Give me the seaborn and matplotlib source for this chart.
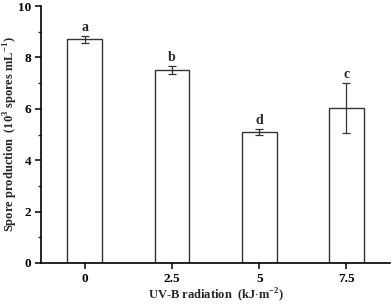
import pandas as pd
import seaborn as sns
import matplotlib.pyplot as plt
from matplotlib.ticker import MultipleLocator

# --- dati ---
dosi = ['0', '2.5', '5', '7.5']
produzione = [8.7, 7.5, 5.1, 6.02]
errori = [0.13, 0.15, 0.1, 0.97]
lettere = ['a', 'b', 'd', 'c']

df = pd.DataFrame({'dose': dosi, 'spore': produzione})

sns.set_style('ticks')
plt.rcParams['font.family'] = ['Liberation Serif', 'DejaVu Serif']
plt.rcParams['font.weight'] = 'bold'
plt.rcParams['mathtext.fontset'] = 'custom'
plt.rcParams['mathtext.rm'] = 'Liberation Serif:bold'
plt.rcParams['mathtext.bf'] = 'Liberation Serif:bold'

fig = plt.figure(figsize=(3.92, 3.05), dpi=100)
ax = fig.add_axes([0.105, 0.138, 0.89, 0.842])

sns.barplot(data=df, x='dose', y='spore', ax=ax, color='white',
            edgecolor='#333333', linewidth=1.0, width=0.4, errorbar=None)

pos = range(len(dosi))
ax.errorbar(pos, produzione, yerr=errori, fmt='none', ecolor='#333333',
            elinewidth=0.9, capsize=3, capthick=0.9)

for x, v, e, l in zip(pos, produzione, errori, lettere):
    ax.text(x, v + e + 0.1, l, ha='center', va='bottom', fontsize=10,
            fontweight='bold')

ax.set_xlim(-0.5, 3.5)
ax.set_ylim(0, 10)
ax.yaxis.set_major_locator(MultipleLocator(2))
ax.yaxis.set_minor_locator(MultipleLocator(1))

sns.despine(ax=ax)
for s in ['left', 'bottom']:
    ax.spines[s].set_linewidth(1.2)
    ax.spines[s].set_color('black')

ax.tick_params(axis='both', which='major', direction='out', length=4, width=1.1,
               labelsize=9.5, colors='black', pad=3)
ax.tick_params(axis='y', which='minor', direction='out', length=2.5, width=1.0)
for t in ax.get_xticklabels() + ax.get_yticklabels():
    t.set_fontweight('bold')

ax.set_xlabel(r'UV-B radiation  (kJ$\cdot$m$^{-2}$)', fontsize=9,
              fontweight='bold')
ax.set_ylabel(r'Spore production  (10$^{3}$ spores mL$^{-1}$)', fontsize=9,
              fontweight='bold')
ax.xaxis.set_label_coords(0.5, -0.09)
ax.yaxis.set_label_coords(-0.062, 0.5)

plt.savefig('out.png', dpi=100)
plt.close(fig)
